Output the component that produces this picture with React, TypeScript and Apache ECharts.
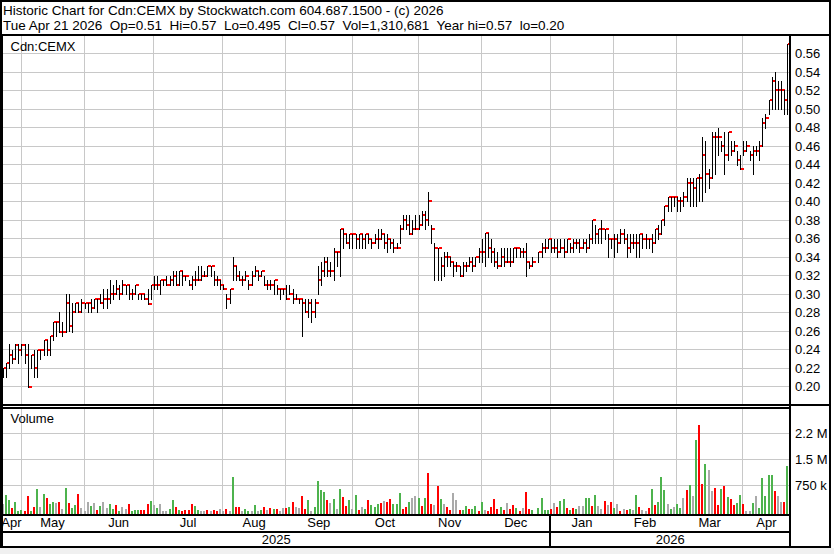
import React, { useEffect, useRef } from "react";
import * as echarts from "echarts";

// ---------- texts ----------
const TITLE = "Historic Chart for Cdn:CEMX by Stockwatch.com 604.687.1500 - (c) 2026";
const SUBTITLE =
  "Tue Apr 21 2026  Op=0.51  Hi=0.57  Lo=0.495  Cl=0.57  Vol=1,310,681  Year hi=0.57  lo=0.20";
const SYMBOL = "Cdn:CEMX";
const VOLUME_TITLE = "Volume";

// ---------- categories (trading days grouped by month) ----------
const MONTHS = ["Apr", "May", "Jun", "Jul", "Aug", "Sep", "Oct", "Nov", "Dec", "Jan", "Feb", "Mar", "Apr"];
const MONTH_DAYS = [6, 20, 22, 22, 20, 21, 21, 20, 22, 20, 20, 21, 15];
const YEARS = ["2025", "2026"];
const YEAR_MONTH_COUNT = [9, 4];

// ---------- axis ticks ----------
const PRICE_MIN = 0.18;
const PRICE_MAX = 0.58;
const PRICE_STEP = 0.02;
const PRICE_LABEL_MIN = 0.2;
const PRICE_LABEL_MAX = 0.56;
const VOLUME_TICKS = [750000, 1500000, 2250000];
const VOLUME_TICK_LABELS = ["750 k", "1.5 M", "2.2 M"];
const VOLUME_MIN = -86500;
const VOLUME_MAX = 2980000;

// ---------- price data (one value per trading day) ----------
const HIGH = [
  // Apr 2025
  0.22, 0.225, 0.246, 0.24, 0.246, 0.246,
  // May
  0.246, 0.246, 0.246, 0.234, 0.239, 0.239, 0.239, 0.25, 0.25, 0.255, 0.27, 0.27, 0.281, 0.27, 0.3, 0.3, 0.29, 0.29, 0.29, 0.295,
  // Jun
  0.29, 0.29, 0.295, 0.295, 0.295, 0.3, 0.305, 0.305, 0.315, 0.31, 0.315, 0.31, 0.315, 0.31, 0.31, 0.305, 0.31, 0.3, 0.3, 0.3, 0.305, 0.31,
  // Jul
  0.32, 0.32, 0.315, 0.315, 0.32, 0.32, 0.325, 0.325, 0.325, 0.325, 0.32, 0.315, 0.32, 0.325, 0.33, 0.33, 0.325, 0.33, 0.33, 0.325, 0.32, 0.315,
  // Aug
  0.31, 0.3, 0.305, 0.34, 0.33, 0.325, 0.32, 0.325, 0.315, 0.325, 0.33, 0.325, 0.325, 0.32, 0.315, 0.315, 0.315, 0.31, 0.305, 0.305,
  // Sep
  0.31, 0.31, 0.305, 0.3, 0.295, 0.295, 0.295, 0.295, 0.295, 0.295, 0.33, 0.335, 0.34, 0.34, 0.335, 0.35, 0.345, 0.37, 0.37, 0.365, 0.365,
  // Oct
  0.365, 0.365, 0.365, 0.365, 0.365, 0.365, 0.36, 0.365, 0.37, 0.37, 0.365, 0.365, 0.36, 0.36, 0.355, 0.375, 0.385, 0.385, 0.385, 0.38, 0.385,
  // Nov
  0.385, 0.39, 0.39, 0.41, 0.375, 0.355, 0.35, 0.34, 0.345, 0.345, 0.34, 0.335, 0.335, 0.33, 0.335, 0.335, 0.34, 0.34, 0.34, 0.35,
  // Dec
  0.36, 0.366, 0.366, 0.36, 0.35, 0.345, 0.35, 0.35, 0.35, 0.35, 0.35, 0.35, 0.35, 0.35, 0.355, 0.335, 0.34, null, 0.345, 0.355, 0.36, 0.36,
  // Jan 2026
  0.36, 0.36, 0.36, 0.36, 0.36, 0.36, 0.355, 0.36, 0.36, 0.36, 0.36, 0.36, 0.365, 0.38, 0.375, 0.37, 0.38, 0.37, 0.365, 0.36,
  // Feb
  0.365, 0.365, 0.37, 0.37, 0.365, 0.365, 0.365, 0.365, 0.365, 0.365, 0.365, 0.36, 0.365, 0.37, 0.375, 0.38, 0.395, 0.405, 0.405, 0.405,
  // Mar
  0.405, 0.405, 0.41, 0.425, 0.425, 0.425, 0.425, 0.43, 0.47, 0.465, 0.435, 0.475, 0.475, 0.48, 0.465, 0.475, 0.475, 0.465, 0.465, 0.455, 0.45,
  // Apr
  0.465, 0.465, 0.455, 0.46, 0.46, 0.465, 0.49, 0.495, 0.51, 0.535, 0.54, 0.53, 0.53, 0.52, 0.57,
];
const LOW = [
  0.21, 0.21, 0.22, 0.225, 0.23, 0.225,
  0.234, 0.225, 0.2, 0.22, 0.21, 0.21, 0.23, 0.234, 0.234, 0.234, 0.25, 0.255, 0.259, 0.255, 0.259, 0.26, 0.259, 0.28, 0.28, 0.28,
  0.285, 0.28, 0.28, 0.285, 0.28, 0.29, 0.285, 0.285, 0.29, 0.295, 0.3, 0.295, 0.3, 0.3, 0.295, 0.295, 0.3, 0.295, 0.295, 0.295, 0.289, 0.295,
  0.305, 0.305, 0.3, 0.31, 0.31, 0.31, 0.31, 0.31, 0.31, 0.31, 0.315, 0.31, 0.305, 0.31, 0.315, 0.315, 0.32, 0.32, 0.32, 0.31, 0.31, 0.305,
  0.305, 0.285, 0.29, 0.315, 0.315, 0.315, 0.31, 0.315, 0.305, 0.31, 0.32, 0.315, 0.32, 0.31, 0.305, 0.305, 0.3, 0.3, 0.295, 0.3,
  0.295, 0.3, 0.29, 0.295, 0.29, 0.255, 0.28, 0.275, 0.27, 0.275, 0.3, 0.31, 0.32, 0.32, 0.32, 0.315, 0.33, 0.32, 0.35, 0.355, 0.35,
  0.35, 0.35, 0.35, 0.35, 0.35, 0.355, 0.35, 0.355, 0.35, 0.36, 0.35, 0.345, 0.35, 0.345, 0.35, 0.355, 0.37, 0.37, 0.365, 0.365, 0.37,
  0.37, 0.375, 0.37, 0.375, 0.355, 0.315, 0.315, 0.315, 0.32, 0.33, 0.33, 0.32, 0.325, 0.32, 0.32, 0.325, 0.33, 0.325, 0.33, 0.335,
  0.335, 0.33, 0.34, 0.335, 0.33, 0.328, 0.33, 0.33, 0.335, 0.33, 0.335, 0.34, 0.34, 0.34, 0.32, 0.328, 0.33, null, 0.335, 0.34, 0.345, 0.35,
  0.345, 0.345, 0.34, 0.345, 0.34, 0.345, 0.345, 0.345, 0.35, 0.345, 0.35, 0.345, 0.35, 0.355, 0.355, 0.355, 0.355, 0.36, 0.34, 0.35,
  0.34, 0.345, 0.355, 0.355, 0.34, 0.345, 0.35, 0.34, 0.34, 0.35, 0.35, 0.35, 0.345, 0.355, 0.36, 0.365, 0.375, 0.39, 0.39, 0.395,
  0.39, 0.39, 0.395, 0.4, 0.395, 0.395, 0.395, 0.4, 0.4, 0.41, 0.415, 0.425, 0.43, 0.45, 0.455, 0.43, 0.445, 0.45, 0.455, 0.44, 0.435,
  0.45, 0.455, 0.445, 0.43, 0.45, 0.445, 0.46, 0.48, 0.495, 0.5, 0.5, 0.5, 0.5, 0.495, 0.495,
];
const CLOSE = [
  0.22, 0.225, 0.234, 0.23, 0.245, 0.239,
  0.245, 0.234, 0.2, 0.234, 0.22, 0.239, 0.239, 0.25, 0.239, 0.255, 0.27, 0.27, 0.259, 0.259, 0.29, 0.265, 0.28, 0.29, 0.28, 0.29,
  0.29, 0.29, 0.285, 0.295, 0.295, 0.29, 0.295, 0.295, 0.3, 0.3, 0.305, 0.3, 0.31, 0.31, 0.3, 0.3, 0.31, 0.3, 0.3, 0.295, 0.289, 0.31,
  0.31, 0.31, 0.315, 0.315, 0.31, 0.315, 0.32, 0.31, 0.325, 0.32, 0.32, 0.31, 0.315, 0.315, 0.315, 0.32, 0.32, 0.33, 0.33, 0.315, 0.315, 0.31,
  0.305, 0.295, 0.305, 0.33, 0.32, 0.315, 0.315, 0.32, 0.31, 0.32, 0.325, 0.32, 0.325, 0.31, 0.31, 0.31, 0.315, 0.305, 0.305, 0.305,
  0.295, 0.3, 0.295, 0.295, 0.295, 0.29, 0.28, 0.29, 0.28, 0.29, 0.315, 0.325, 0.335, 0.325, 0.325, 0.345, 0.345, 0.37, 0.365, 0.355, 0.365,
  0.365, 0.36, 0.365, 0.36, 0.365, 0.36, 0.355, 0.36, 0.36, 0.365, 0.355, 0.36, 0.355, 0.35, 0.35, 0.37, 0.38, 0.375, 0.365, 0.37, 0.37,
  0.375, 0.385, 0.38, 0.4, 0.37, 0.35, 0.35, 0.33, 0.34, 0.34, 0.335, 0.33, 0.33, 0.32, 0.33, 0.33, 0.335, 0.33, 0.34, 0.345,
  0.345, 0.366, 0.35, 0.345, 0.335, 0.33, 0.34, 0.335, 0.335, 0.335, 0.35, 0.35, 0.345, 0.345, 0.335, 0.33, 0.335, null, 0.345, 0.35, 0.35, 0.36,
  0.35, 0.35, 0.345, 0.35, 0.345, 0.36, 0.35, 0.355, 0.355, 0.35, 0.355, 0.35, 0.36, 0.38, 0.365, 0.37, 0.37, 0.37, 0.36, 0.36,
  0.36, 0.355, 0.365, 0.36, 0.35, 0.355, 0.355, 0.355, 0.365, 0.36, 0.36, 0.36, 0.355, 0.37, 0.365, 0.38, 0.395, 0.405, 0.405, 0.405,
  0.4, 0.4, 0.405, 0.42, 0.42, 0.415, 0.425, 0.425, 0.45, 0.43, 0.425, 0.47, 0.47, 0.47, 0.46, 0.45, 0.475, 0.455, 0.46, 0.445, 0.435,
  0.455, 0.46, 0.45, 0.455, 0.455, 0.46, 0.485, 0.49, 0.51, 0.53, 0.52, 0.52, 0.52, 0.51, 0.57,
];

// ---------- volume data (thousands of shares) ----------
const VOLUME_K = [
  211, 470, 326, 106, 269, 5,
  38, 10, 442, 10, 125, 643, 125, 499, 384, 211, 269, 240, 269, 67, 672, 240, 96, 182, 499, 96,
  5, 269, 154, 240, 38, 154, 269, 96, 211, 67, 182, 10, 125, 67, 211, 5, 38, 38, 38, 38, 211, 298,
  182, 96, 211, 10, 10, 67, 326, 125, 38, 5, 38, 38, 211, 154, 38, 5, 5, 38, 10, 38, 5, 67,
  10, 67, 10, 989, 125, 134, 5, 67, 10, 5, 182, 5, 38, 125, 38, 96, 67, 67, 10, 96,
  96, 125, 269, 125, 96, 442, 67, 326, 10, 125, 874, 614, 557, 326, 240, 355, 67, 643, 413, 154, 326,
  67, 470, 38, 125, 67, 326, 182, 125, 211, 240, 298, 269, 355, 211, 211, 528, 67, 125, 269, 384, 442,
  384, 154, 384, 1106, 211, 182, 730, 355, 211, 125, 38, 528, 326, 38, 38, 154, 67, 67, 154, 10,
  269, 38, 10, 125, 355, 67, 125, 38, 240, 67, 182, 96, 10, 96, 557, 67, 38, null, 96, 384, 38, 38,
  67, 240, 125, 298, 355, 96, 38, 96, 67, 154, 154, 384, 384, 154, 470, 154, 67, 298, 182, 269,
  96, 211, 10, 67, 38, 67, 38, 470, 125, 38, 5, 96, 643, 182, 269, 989, 614, 211, 67, 125,
  211, 96, 384, 614, 758, 442, 2054, 2486, 787, 1363, 1190, 586, 672, 182, 643, 730, 413, 355, 182, 240, 470,
  211, 5, 5, 240, 442, 96, 960, 442, 1046, 1046, 586, 442, 269, 269, 1310.681,
];
// u = up (green), d = down (red), n = unchanged (grey)
const VOLUME_DIR = (
  "nuuduu" +
  "uddudunuduundnuduudn" +
  "nnundunnuudunnduuudddu" +
  "nunnnuududddduunndnddn" +
  "ndnuddnuununudndudnn" +
  "dudnnddunuuuudnunuddu" +
  "nudnuduuudndduuuddunn" +
  "ududdndunddnnduuduud" +
  "unddddudnddudnddunuuuu" +
  "dnduududunnuudunndnd" +
  "undndunudnnduduuunun" +
  "uundunuddunnddududduu" +
  "dnnunuuuuudnndu"
).split("");

// ---------- styling ----------
const FONT = '"Liberation Sans", Arial, sans-serif';
const GRID_COLOR = "#c8c8c8";
const DIR_COLOR: Record<string, string> = { u: "#4db34d", d: "#ff0000", n: "#aaaaaa" };

// derived category helpers
const MONTH_STARTS: number[] = [];
{
  let acc = 0;
  MONTH_DAYS.forEach((d) => {
    MONTH_STARTS.push(acc);
    acc += d;
  });
}
const TOTAL_DAYS = MONTH_DAYS.reduce((a, b) => a + b, 0);
const CATEGORIES: string[] = [];
{
  let yi = 0;
  let mInYear = 0;
  MONTHS.forEach((m, k) => {
    for (let d = 0; d < MONTH_DAYS[k]; d++) CATEGORIES.push(`${m} ${YEARS[yi]} #${d + 1}`);
    mInYear++;
    if (mInYear >= YEAR_MONTH_COUNT[yi]) {
      yi++;
      mInYear = 0;
    }
  });
}
const MONTH_START_SET = new Set(MONTH_STARTS.filter((s) => s > 0));

export default function App() {
  const ref = useRef<HTMLDivElement>(null);

  useEffect(() => {
    document.body.style.margin = "0";
    const chart = echarts.init(ref.current as HTMLDivElement, null, {
      renderer: "svg",
      width: 834,
      height: 554,
    });

    const priceData: any[] = [];
    CLOSE.forEach((c, i) => {
      if (c == null || HIGH[i] == null || LOW[i] == null) return;
      priceData.push([i, HIGH[i], LOW[i], c]);
    });
    const volumeData: any[] = [];
    VOLUME_K.forEach((v, i) => {
      if (v == null) return;
      volumeData.push([i, v * 1000, ["u", "d", "n"].indexOf(VOLUME_DIR[i])]);
    });

    const monthData = MONTHS.map((m, k) => [MONTH_STARTS[k], MONTH_STARTS[k] + MONTH_DAYS[k], k]);
    const yearData: any[] = [];
    {
      let mk = 0;
      YEARS.forEach((y, k) => {
        const s = MONTH_STARTS[mk];
        mk += YEAR_MONTH_COUNT[k];
        const e = mk < MONTH_STARTS.length ? MONTH_STARTS[mk] : TOTAL_DAYS;
        yearData.push([s, e, k]);
      });
    }

    const catAxis = (gridIndex: number) => ({
      gridIndex,
      type: "category",
      data: CATEGORIES,
      boundaryGap: true,
      axisLine: { show: false },
      axisTick: { show: false },
      axisLabel: { show: false },
      splitLine: {
        show: true,
        interval: (idx: number) => MONTH_START_SET.has(idx),
        lineStyle: { color: GRID_COLOR, width: 1 },
      },
    });

    const textStyle = (text: string, align = "left", size = 13) => ({
      text,
      fill: "#000",
      font: `${size}px ${FONT}`,
      align,
      textAlign: align,
      verticalAlign: "middle",
      textVerticalAlign: "middle",
    });

    const hLine = (x1: number, x2: number, y: number, w = 2) => ({
      type: "line",
      z: 100,
      silent: true,
      shape: { x1, y1: y, x2, y2: y },
      style: { stroke: "#000", lineWidth: w },
    });
    const vLine = (x: number, y1: number, y2: number, w = 2) => ({
      type: "line",
      z: 100,
      silent: true,
      shape: { x1: x, y1, x2: x, y2 },
      style: { stroke: "#000", lineWidth: w },
    });

    const option: any = {
      animation: false,
      backgroundColor: "#ffffff",
      grid: [
        { left: 2, top: 35, width: 788, height: 370 },
        { left: 2, top: 408, width: 788, height: 106.3 },
        { left: 2, top: 514.3, width: 788, height: 33 },
      ],
      xAxis: [
        catAxis(0),
        catAxis(1),
        { gridIndex: 2, type: "value", min: 0, max: TOTAL_DAYS, show: false },
      ],
      yAxis: [
        {
          gridIndex: 0,
          type: "value",
          position: "right",
          min: PRICE_MIN,
          max: PRICE_MAX,
          interval: PRICE_STEP,
          axisLine: { show: false },
          axisTick: { show: false },
          axisLabel: {
            color: "#000",
            fontSize: 13,
            fontFamily: FONT,
            margin: 5,
            formatter: (v: number) =>
              v < PRICE_LABEL_MIN - 0.001 || v > PRICE_LABEL_MAX + 0.001 ? "" : v.toFixed(2),
          },
          splitLine: { show: true, lineStyle: { color: GRID_COLOR, width: 1 } },
        },
        {
          gridIndex: 1,
          type: "value",
          min: VOLUME_MIN,
          max: VOLUME_MAX,
          show: false,
          splitLine: { show: false },
        },
        { gridIndex: 2, type: "value", min: 0, max: 2, show: false },
      ],
      series: [
        {
          type: "custom",
          name: "Price",
          xAxisIndex: 0,
          yAxisIndex: 0,
          encode: { x: 0, y: [1, 2] },
          data: priceData,
          z: 3,
          renderItem: (params: any, api: any) => {
            const i = api.value(0);
            const top = api.coord([i, api.value(1)]);
            const bot = api.coord([i, api.value(2)]);
            const cl = api.coord([i, api.value(3)]);
            const px = Math.round(top[0]);
            const y1 = Math.round(top[1]);
            const y2 = Math.round(bot[1]);
            return {
              type: "group",
              children: [
                {
                  type: "rect",
                  shape: { x: px - 1, y: y1, width: 1, height: Math.max(1, y2 - y1 + 1) },
                  style: { fill: "#000" },
                },
                {
                  type: "rect",
                  shape: { x: px, y: Math.round(cl[1]) - 1, width: 3, height: 2 },
                  style: { fill: "#ff0000" },
                },
              ],
            };
          },
        },
        {
          type: "custom",
          name: "Volume",
          xAxisIndex: 1,
          yAxisIndex: 1,
          encode: { x: 0, y: 1 },
          data: volumeData,
          z: 3,
          renderItem: (params: any, api: any) => {
            const i = api.value(0);
            const p = api.coord([i, api.value(1)]);
            const base = params.coordSys.y + params.coordSys.height;
            const px = Math.round(p[0]);
            const y = Math.round(p[1]);
            const dir = ["u", "d", "n"][api.value(2)];
            return {
              type: "rect",
              shape: { x: px - 2, y, width: 2, height: Math.max(1, base - y) },
              style: { fill: DIR_COLOR[dir] },
            };
          },
          markLine: {
            silent: true,
            symbol: "none",
            z: 1,
            animation: false,
            lineStyle: { color: GRID_COLOR, width: 1, type: "solid" },
            label: {
              show: true,
              position: "end",
              distance: 5,
              color: "#000",
              fontSize: 13,
              fontFamily: FONT,
              formatter: (p: any) => p.name,
            },
            emphasis: { disabled: true },
            data: VOLUME_TICKS.map((v, k) => ({ yAxis: v, name: VOLUME_TICK_LABELS[k] })),
          },
        },
        {
          type: "custom",
          name: "Months",
          xAxisIndex: 2,
          yAxisIndex: 2,
          encode: { x: [0, 1] },
          data: monthData,
          silent: true,
          renderItem: (params: any, api: any) => {
            const s = api.value(0);
            const e = api.value(1);
            const p = api.coord([(s + e) / 2, 1.5]);
            return {
              type: "text",
              x: p[0],
              y: p[1],
              style: textStyle(MONTHS[api.value(2)], "center"),
            };
          },
        },
        {
          type: "custom",
          name: "Years",
          xAxisIndex: 2,
          yAxisIndex: 2,
          encode: { x: [0, 1] },
          data: yearData,
          silent: true,
          renderItem: (params: any, api: any) => {
            const s = api.value(0);
            const e = api.value(1);
            const p = api.coord([(s + e) / 2, 0.5]);
            const children: any[] = [
              { type: "text", x: p[0], y: p[1], style: textStyle(YEARS[api.value(2)], "center") },
            ];
            if (s > 0) {
              const a = api.coord([s, 2]);
              const b = api.coord([s, 0]);
              const x = Math.round(a[0]);
              children.push({
                type: "line",
                shape: { x1: x, y1: a[1], x2: x, y2: b[1] },
                style: { stroke: "#000", lineWidth: 2 },
              });
            }
            return { type: "group", children };
          },
        },
      ],
      graphic: [
        {
          type: "rect",
          z: 0,
          silent: true,
          shape: { x: 0, y: 548, width: 834, height: 6 },
          style: { fill: "#f0f0f0" },
        },
        { type: "text", z: 100, x: 3, y: 10, style: textStyle(TITLE, "left", 13.5) },
        { type: "text", z: 100, x: 3, y: 25, style: textStyle(SUBTITLE, "left", 13.5) },
        { type: "text", z: 100, x: 10.5, y: 46, style: textStyle(SYMBOL) },
        { type: "text", z: 100, x: 10.5, y: 418, style: textStyle(VOLUME_TITLE) },
        {
          type: "rect",
          z: 100,
          silent: true,
          shape: { x: 1, y: 1, width: 829, height: 546 },
          style: { fill: "none", stroke: "#000", lineWidth: 2 },
        },
        hLine(0, 831, 35),
        vLine(2, 35, 547),
        vLine(790, 35, 547),
        hLine(0, 831, 405),
        hLine(0, 790, 408),
        hLine(0, 790, 515),
        hLine(0, 790, 532),
      ],
    };

    chart.setOption(option);
    return () => chart.dispose();
  }, []);

  return (
    <div
      ref={ref}
      style={{ position: "absolute", left: 0, top: 0, width: 834, height: 554 }}
    />
  );
}
